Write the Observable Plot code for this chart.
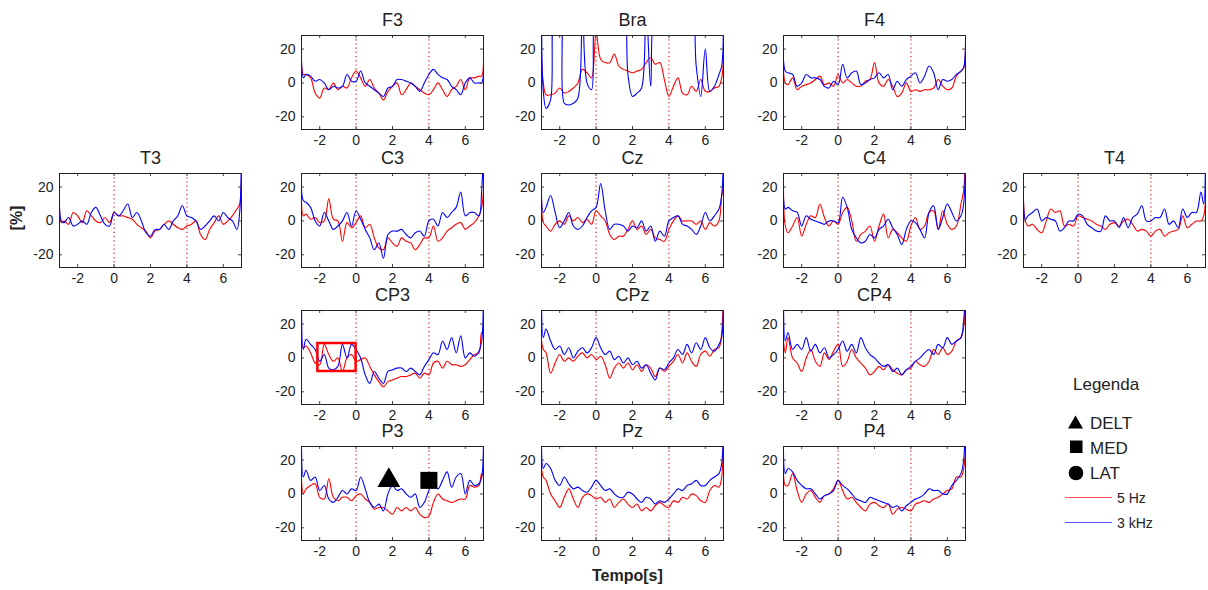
<!DOCTYPE html>
<html>
<head>
<meta charset="utf-8">
<script src="https://cdn.jsdelivr.net/npm/d3@7"></script>
<script src="https://cdn.jsdelivr.net/npm/@observablehq/plot@0.6"></script>
<style>
  html, body { margin: 0; padding: 0; background: #fff; }
  #wrap { position: relative; width: 1208px; height: 590px; overflow: hidden; background: #fff;
          font-family: "Liberation Sans", Arial, sans-serif; color: #222; }
  #wrap > svg, #wrap > .pan { position: absolute; }
  .lbl { position: absolute; font-weight: bold; font-size: 16px; }
</style>
</head>
<body>
<div id="wrap"></div>
<script>
// ---------- data ----------
const times = [-3,-2.9,-2.75,-2.5,-2.25,-2,-1.75,-1.5,-1.25,-1,-0.75,-0.5,-0.25,0,0.25,0.5,0.75,1,1.25,1.5,1.75,2,2.25,2.5,2.75,3,3.25,3.5,3.75,4,4.25,4.5,4.75,5,5.25,5.5,5.75,6,6.25,6.5,6.75,6.9,7];
const xTicks = [-2, 0, 2, 4, 6];
const yTicks = [-20, 0, 20];
const events = [0, 4];
const seriesNames = ["5 Hz", "3 kHz"];

const F3_5Hz  = [13,5,5,3,-6,-9,-3,-4,0,-4,-2,-3,3,7,3,-2,2,-3,-6,-10,-5,-2,0,-7,-4,0,-2,-4,-6,-7,-4,0,-4,-8,-4,-2,2,-4,3,3,4,4,13];
const F3_3kHz = [45,3,5,4,1,2,0,-4,-2,-3,-2,5,1,1,7,0,-2,-4,-6,-8,-3,-2,2,2,1,0,-2,-5,0,5,8,5,3,2,-2,-4,-7,0,3,0,0,0,45];
const Bra_5Hz  = [14,0,-7,-7,-6,-3,-6,-5,-3,0,8,6,3,30,14,12,12,17,10,8,7,6,7,8,12,15,11,12,2,-8,-2,3,-6,-7,-2,-5,2,-5,-5,-3,-2,3,14];
const Bra_3kHz = [45,-5,-15,-10,45,45,-12,-13,-12,-9,45,0,-4,45,45,45,45,45,45,45,5,-8,-6,-3,45,-2,45,45,45,45,45,45,45,45,45,10,-8,20,-5,-2,5,10,45];
const F4_5Hz  = [20,0,-1,3,-4,-2,-1,0,2,4,-1,0,-2,5,0,2,0,-2,-2,1,2,12,0,-2,2,-2,-8,-6,0,-5,-4,-5,-4,-4,-3,2,-2,-4,-3,4,7,9,20];
const F4_3kHz = [45,7,6,5,-2,0,5,3,3,2,-2,-3,1,-1,11,3,6,7,-1,0,2,3,6,3,5,-4,1,-2,2,4,6,0,4,10,6,-4,2,1,2,5,7,9,45];
const T3_5Hz  = [10,-1,0,-2,5,3,-1,6,3,0,-1,2,-1,5,3,3,2,1,-2,-4,-6,-10,-6,-5,-2,0,-2,-4,-5,-3,-2,0,-8,-11,-5,-1,3,-2,0,3,7,10,45];
const T3_3kHz = [45,0,-1,2,-3,-2,0,-2,5,8,3,-2,-3,5,3,6,10,2,5,0,-7,-9,-5,-5,-2,-5,0,3,9,3,2,0,-5,-3,0,3,0,5,2,0,-5,5,45];
const C3_5Hz  = [18,3,4,1,2,-1,0,13,1,0,-12,-1,-4,-1,3,-4,-2,-10,-16,-17,-10,-13,-15,-10,-12,-13,-17,-14,-10,-10,-3,-12,-10,-6,-4,-2,-1,-5,-3,-1,3,8,18];
const C3_3kHz = [45,12,11,8,0,-3,5,0,-5,-3,0,5,-3,6,1,-5,-10,-17,-13,-22,-8,-6,-6,-5,-8,-10,-7,-6,-9,0,1,-3,5,2,5,8,17,3,5,5,3,18,45];
const Cz_5Hz  = [20,-1,-3,-6,-2,0,-2,3,0,2,-1,1,-2,6,3,0,-8,-11,-9,-9,-5,0,-5,-3,-8,-5,-10,-11,-12,-5,0,3,0,0,0,-2,0,-5,-1,-3,0,15,20];
const Cz_3kHz = [45,5,8,15,5,-4,0,5,-3,-5,-3,2,6,8,22,6,-5,-2,-2,-3,-6,-3,-4,0,-6,-3,-12,-6,-9,0,2,3,-2,-3,-5,-8,-3,5,0,3,7,15,45];
const C4_5Hz  = [18,-3,-7,-3,2,-9,-2,3,2,10,2,-3,0,-2,5,8,0,-12,-8,-6,-3,-12,-3,4,-10,-5,-7,-10,-12,-3,2,-5,-3,5,6,-5,6,-2,-5,-3,10,18,45];
const C4_3kHz = [45,7,8,6,5,-3,3,1,0,-1,-2,0,0,-1,14,8,-5,-10,-13,-12,-8,-10,-5,-3,1,-4,-8,-14,-5,0,-1,-5,-10,5,9,-5,2,10,5,0,3,10,45];
const T4_5Hz  = [12,0,-3,-2,-5,-7,0,7,5,6,-3,-2,-3,3,2,1,0,-2,-3,-5,-2,-1,-3,0,1,-2,-6,-5,-6,-9,-6,-5,-9,-7,-6,-5,3,-4,-2,0,0,3,12];
const T4_3kHz = [45,1,3,5,7,0,2,1,0,-6,-4,0,0,4,3,-2,-4,-6,-6,3,0,0,-4,2,-4,2,4,9,0,0,2,2,7,-2,0,-4,7,2,5,5,17,10,45];
const CP3_5Hz  = [10,6,7,3,-3,-4,8,2,-2,0,-8,0,2,-2,-1,0,-5,-10,-14,-17,-14,-13,-12,-11,-11,-10,-9,-12,-9,-10,-3,-2,-6,-2,-4,-4,-5,-4,-1,2,3,15,15];
const CP3_3kHz = [45,5,11,8,5,-2,2,-6,-7,-5,8,0,8,5,0,-10,-15,-8,-12,-15,-8,-7,-6,-6,-8,-6,-8,-10,-5,-1,3,2,10,5,12,3,13,0,3,1,4,10,45];
const CPz_5Hz  = [10,5,3,-9,-3,2,-2,0,-2,1,3,0,2,-1,1,-4,-12,-6,-3,-6,-3,-7,-4,-8,-4,-6,-11,-6,-8,-5,-2,2,-3,3,-2,-5,2,4,1,5,6,15,45];
const CPz_3kHz = [45,12,17,10,5,7,2,6,0,4,6,3,6,12,6,2,4,-1,1,-3,0,-4,-2,-6,-4,-9,-13,-6,-7,-3,0,5,2,8,3,9,5,12,6,4,8,12,45];
const CP4_5Hz  = [10,3,12,0,-3,-8,0,5,-2,-5,3,-1,4,8,-5,-2,5,0,-3,-6,-10,-8,-5,-7,-4,-7,-9,-10,-7,-6,-2,-4,-5,-2,5,2,6,2,4,10,12,18,45];
const CP4_3kHz = [45,10,15,5,8,5,12,4,8,3,6,0,2,5,10,4,8,3,12,6,2,0,-3,-5,-4,-8,-6,-10,-7,-5,-2,0,3,5,2,8,6,12,8,10,12,22,45];
const P3_5Hz  = [8,0,3,5,6,-2,-3,9,-2,-4,-2,-2,-4,-1,0,-3,-5,-9,-8,-8,-10,-12,-8,-10,-8,-10,-8,-12,-14,-13,-5,0,-3,-4,-5,-4,-3,-3,5,4,5,12,10];
const P3_3kHz = [45,10,14,8,10,2,5,-3,-5,-2,2,0,3,2,10,3,-5,-8,-6,-10,0,5,2,3,0,-2,0,-8,-5,2,6,3,8,13,4,10,12,0,8,5,6,10,45];
const Pz_5Hz  = [15,10,8,0,-4,-8,-2,3,-3,-8,-2,0,-1,-3,-2,-5,-3,-8,-5,-3,-6,-8,-6,-10,-8,-10,-7,-5,-7,-8,-4,-5,-2,-3,0,-1,-4,-5,2,5,4,10,45];
const Pz_3kHz = [45,15,18,15,8,5,10,6,3,4,2,1,4,8,5,2,3,0,-2,-2,1,0,-3,-5,-2,-3,-6,-4,-5,-3,0,3,2,5,6,8,5,5,8,10,12,18,45];
const P4_5Hz  = [12,5,5,12,2,-5,0,2,-2,-5,-1,0,3,8,2,-3,-2,-5,-8,-10,-6,-5,-7,-8,-6,-12,-9,-8,-9,-10,-6,-5,-4,-5,-3,-2,0,2,3,10,10,15,25];
const P4_3kHz = [45,12,15,13,8,5,3,3,0,-3,-1,0,2,8,5,3,0,-3,-4,-5,-2,-3,-4,-5,-6,-8,-7,-10,-7,-5,-3,-2,0,3,2,2,0,0,5,8,12,20,45];

// annotations
const triangles = [{channel: "P3", t: 1.8, v: 8}];
const squares = [{channel: "P3", t: 4, v: 8}];
const boxes = [{channel: "CP3", t1: -2.1, t2: 0, v1: -8, v2: 8.5}];

// channel layout: [name, column, row, 5Hz, 3kHz]
const channels = [
  ["F3", 1, 0, F3_5Hz, F3_3kHz], ["Bra", 2, 0, Bra_5Hz, Bra_3kHz], ["F4", 3, 0, F4_5Hz, F4_3kHz],
  ["T3", 0, 1, T3_5Hz, T3_3kHz], ["C3", 1, 1, C3_5Hz, C3_3kHz], ["Cz", 2, 1, Cz_5Hz, Cz_3kHz], ["C4", 3, 1, C4_5Hz, C4_3kHz], ["T4", 4, 1, T4_5Hz, T4_3kHz],
  ["CP3", 1, 2, CP3_5Hz, CP3_3kHz], ["CPz", 2, 2, CPz_5Hz, CPz_3kHz], ["CP4", 3, 2, CP4_5Hz, CP4_3kHz],
  ["P3", 1, 3, P3_5Hz, P3_3kHz], ["Pz", 2, 3, Pz_5Hz, Pz_3kHz], ["P4", 3, 3, P4_5Hz, P4_3kHz]
];

// ---------- layout ----------
const colLeft = [59, 301, 541, 783, 1023];
const rowTop = [35, 173, 309.5, 446];
const FW = 182, FH = 94;
const ML = 40, MR = 8, MT = 30, MB = 24;
const font = '"Liberation Sans", Arial, sans-serif';
const fmt = d => String(d);
const wrap = document.getElementById("wrap");

for (const [name, col, row, red, blue] of channels) {
  const rows = [];
  times.forEach((t, i) => { rows.push({t, v: red[i], s: seriesNames[0]}); });
  times.forEach((t, i) => { rows.push({t, v: blue[i], s: seriesNames[1]}); });
  const tri = triangles.filter(d => d.channel === name);
  const sq = squares.filter(d => d.channel === name);
  const bx = boxes.filter(d => d.channel === name);
  const p = Plot.plot({
    width: ML + FW + MR, height: MT + FH + MB,
    marginLeft: ML, marginRight: MR, marginTop: MT, marginBottom: MB,
    x: {domain: [-3, 7]},
    y: {domain: [-27.5, 28]},
    color: {domain: seriesNames, range: ["#ff0000", "#0000ff"]},
    style: {fontFamily: font, fontSize: "14px", background: "transparent", overflow: "visible", color: "#222"},
    marks: [
      Plot.ruleX(events, {x: d => d, stroke: "#cc2222", strokeDasharray: "1.2,3", strokeWidth: 1.2}),
      Plot.lineY(rows, {x: "t", y: "v", z: "s", stroke: "s", strokeWidth: 1.1, curve: "catmull-rom", clip: true}),
      Plot.rect(bx, {x1: "t1", x2: "t2", y1: "v1", y2: "v2", stroke: "#ff0000", strokeWidth: 2.5, fill: "none"}),
      Plot.dot(tri, {x: "t", y: "v", symbol: "triangle", r: 8.5, fill: "#000", stroke: "none"}),
      Plot.dot(sq, {x: "t", y: "v", symbol: "square", r: 9.6, fill: "#000", stroke: "none"}),
      Plot.tickX(xTicks, {x: d => d, insetTop: FH - 3, stroke: "#444"}),
      Plot.tickX(xTicks, {x: d => d, insetBottom: FH - 3, stroke: "#444"}),
      Plot.tickY(yTicks, {y: d => d, insetRight: FW - 3, stroke: "#444"}),
      Plot.tickY(yTicks, {y: d => d, insetLeft: FW - 3, stroke: "#444"}),
      Plot.frame({stroke: "#222"}),
      Plot.axisX(xTicks, {tickSize: 0, tickPadding: 6, label: null, fontSize: 14, tickFormat: fmt}),
      Plot.axisY(yTicks, {tickSize: 0, tickPadding: 6, label: null, fontSize: 14, tickFormat: fmt}),
      Plot.text([name], {frameAnchor: "top", dy: -15, lineAnchor: "middle", fontSize: 18, fill: "#222"})
    ]
  });
  p.classList.add("pan");
  p.style.position = "absolute";
  p.style.left = (colLeft[col] - ML) + "px";
  p.style.top = (rowTop[row] - MT) + "px";
  wrap.appendChild(p);
}

// axis titles
const yl = document.createElement("div");
yl.className = "lbl"; yl.textContent = "[%]";
yl.style.left = "5px"; yl.style.top = "209px"; yl.style.transform = "rotate(-90deg)";
wrap.appendChild(yl);
const xl = document.createElement("div");
xl.className = "lbl"; xl.textContent = "Tempo[s]";
xl.style.left = "592px"; xl.style.top = "567px";
wrap.appendChild(xl);

// legend
const NS = "http://www.w3.org/2000/svg";
const lg = document.createElementNS(NS, "svg");
lg.setAttribute("width", 168); lg.setAttribute("height", 180);
lg.style.left = "1040px"; lg.style.top = "360px";
lg.setAttribute("font-family", font);
lg.innerHTML = `
  <text x="33" y="30" font-size="17" fill="#222">Legenda</text>
  <path d="M28,68.5 L43,68.5 L35.5,55.5 Z" fill="#000"/>
  <text x="50" y="68.5" font-size="17" fill="#222">DELT</text>
  <rect x="30" y="80.5" width="12.5" height="12.5" fill="#000"/>
  <text x="50" y="93.5" font-size="17" fill="#222">MED</text>
  <circle cx="36" cy="113" r="7.3" fill="#000"/>
  <text x="50" y="119" font-size="17" fill="#222">LAT</text>
  <line x1="25" x2="72" y1="137.5" y2="137.5" stroke="#ff5555" stroke-width="1"/>
  <text x="77" y="142.5" font-size="14" fill="#222">5 Hz</text>
  <line x1="25" x2="72" y1="162.5" y2="162.5" stroke="#5555ff" stroke-width="1"/>
  <text x="77" y="167.5" font-size="14" fill="#222">3 kHz</text>`;
wrap.appendChild(lg);
</script>
</body>
</html>
